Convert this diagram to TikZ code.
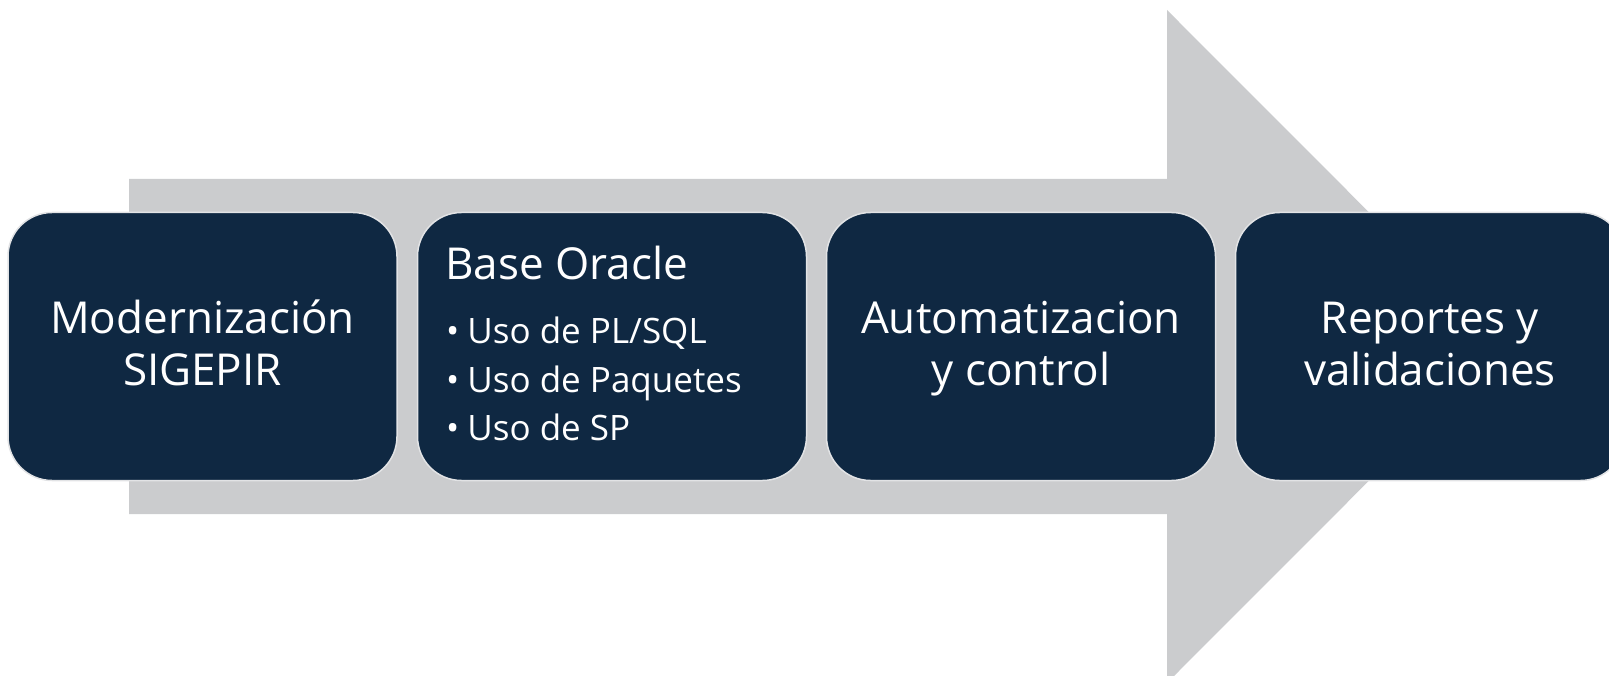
\documentclass[tikz,border=0pt]{standalone}
\usepackage{fontspec}
\setmainfont{Open Sans}
\definecolor{navy}{HTML}{0F2842}
\definecolor{arrowgray}{HTML}{CBCCCE}
\definecolor{edgegray}{HTML}{E2E3E5}
\tikzset{
  stepbox/.style={draw=edgegray, line width=1.5pt, fill=navy, rounded corners=44pt,
    minimum width=389pt, minimum height=268pt, inner sep=0pt},
  bigtxt/.style={text=white, anchor=base, inner sep=0pt, font=\fontsize{44}{51}\selectfont},
  titletxt/.style={text=white, anchor=base west, inner sep=0pt, font=\fontsize{44}{48}\selectfont},
  bultxt/.style={text=white, anchor=base west, inner sep=0pt, font=\fontsize{35}{48}\selectfont},
}
\begin{document}
\begin{tikzpicture}[x=1pt,y=-1pt]
\useasboundingbox (0,0) rectangle (1609,676);
\clip (0,0) rectangle (1609,676);
\fill[arrowgray] (129,179) -- (1167,179) -- (1167,10) -- (1503,346.5) -- (1167,683) -- (1167,514) -- (129,514) -- cycle;
\node[stepbox] (b1) at (202.5,346.5) {};
\node[stepbox] (b2) at (612,346.5) {};
\node[stepbox] (b3) at (1021,346.5) {};
\node[stepbox] (b4) at (1430,346.5) {};
% box 1
\node[bigtxt] (t1a) at (202.5,334) {Modernización};
\node[bigtxt] (t1b) at (202.5,385) {SIGEPIR};
% box 2
\node[titletxt] (t2) at (445,280) {Base Oracle};
\node[bultxt] (t2a) at (446,343) {•\kern8pt Uso de PL/SQL};
\node[bultxt] (t2b) at (446,392) {•\kern8pt Uso de Paquetes};
\node[bultxt] (t2c) at (446,440) {•\kern8pt Uso de SP};
% box 3
\node[bigtxt] (t3a) at (1021,334) {Automatizacion};
\node[bigtxt] (t3b) at (1021,385) {y control};
% box 4
\node[bigtxt] (t4a) at (1430,334) {Reportes y};
\node[bigtxt] (t4b) at (1430,385) {validaciones};
\end{tikzpicture}
\end{document}
